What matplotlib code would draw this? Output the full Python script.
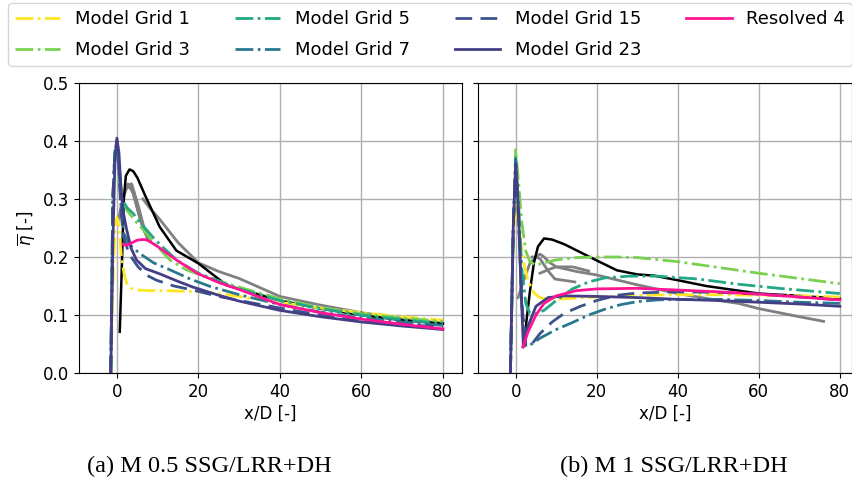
import matplotlib
matplotlib.use("Agg")
import matplotlib.pyplot as plt
from matplotlib.lines import Line2D

# ---------------- data: panel (a) M 0.5 ----------------
a_g1_x = [-1.5, -1.0, -0.5, 0.0, 0.5, 1.1, 1.8, 2.4, 3.5, 5, 8, 12, 16, 20, 25, 30, 40, 50, 60, 70, 80]
a_g1_y = [0.0, 0.15, 0.25, 0.268, 0.255, 0.2, 0.17, 0.155, 0.146, 0.143, 0.142, 0.142, 0.141, 0.14, 0.137, 0.132, 0.122, 0.112, 0.104, 0.097, 0.091]
a_g3_x = [-1.5, -1.0, -0.5, 0.0, 0.5, 1.2, 2.5, 4.5, 6.5, 9, 13, 17, 22, 30, 40, 50, 60, 70, 80]
a_g3_y = [0.0, 0.30, 0.38, 0.40, 0.36, 0.30, 0.28, 0.262, 0.247, 0.225, 0.195, 0.178, 0.165, 0.148, 0.128, 0.113, 0.102, 0.095, 0.089]
a_g5_x = [-1.5, -1.0, -0.5, 0.0, 0.5, 1.2, 2.5, 4, 6, 9, 12, 15, 20, 30, 40, 50, 60, 70, 80]
a_g5_y = [0.0, 0.30, 0.38, 0.40, 0.36, 0.30, 0.285, 0.275, 0.257, 0.233, 0.212, 0.193, 0.172, 0.145, 0.125, 0.111, 0.100, 0.092, 0.085]
a_g7_x = [-1.5, -1.0, -0.5, 0.0, 0.5, 1.0, 1.6, 3, 5.6, 9, 13, 18, 23, 30, 40, 50, 60, 70, 80]
a_g7_y = [0.0, 0.30, 0.38, 0.40, 0.35, 0.29, 0.242, 0.222, 0.206, 0.19, 0.178, 0.162, 0.149, 0.135, 0.118, 0.105, 0.095, 0.088, 0.082]
a_g15_x = [-1.5, -1.0, -0.5, 0.0, 0.5, 1.0, 1.6, 3, 5.2, 7.5, 9.7, 14, 18.7, 25, 30, 40, 50, 60, 70, 80]
a_g15_y = [0.0, 0.30, 0.38, 0.40, 0.35, 0.28, 0.235, 0.205, 0.183, 0.168, 0.16, 0.15, 0.143, 0.132, 0.125, 0.112, 0.100, 0.090, 0.084, 0.079]
a_g23_x = [-1.5, -1.0, -0.5, 0.0, 0.5, 1.0, 1.5, 2.4, 3.5, 4.8, 7, 10.5, 15, 18.7, 25, 30, 40, 50, 60, 70, 80]
a_g23_y = [0.0, 0.22, 0.36, 0.405, 0.38, 0.32, 0.28, 0.247, 0.215, 0.195, 0.18, 0.171, 0.158, 0.148, 0.134, 0.124, 0.108, 0.097, 0.088, 0.081, 0.075]
a_res_x = [1.5, 2.5, 3.5, 5, 6, 7, 8, 10, 12, 15, 20, 25, 30, 40, 50, 60, 70, 80]
a_res_y = [0.222, 0.22, 0.224, 0.229, 0.23, 0.23, 0.227, 0.218, 0.208, 0.193, 0.171, 0.156, 0.144, 0.118, 0.104, 0.093, 0.084, 0.076]
a_exp_x = [0.7, 1.2, 1.7, 2.2, 3.1, 4, 5, 7, 10.5, 14.6, 20, 27, 30, 40, 50, 60, 70, 80]
a_exp_y = [0.071, 0.18, 0.3, 0.34, 0.351, 0.348, 0.337, 0.305, 0.252, 0.211, 0.189, 0.151, 0.145, 0.125, 0.111, 0.100, 0.091, 0.085]
a_gr1_x = [0.2, 1.5, 2.7, 4.0, 5.5, 7.6]
a_gr1_y = [0.26, 0.30, 0.326, 0.31, 0.27, 0.23]
a_gr2_x = [2.5, 3.5, 5.0, 6.5, 8.0]
a_gr2_y = [0.32, 0.325, 0.29, 0.25, 0.23]
a_gr3_x = [6.4, 8, 10.5, 15, 20, 25, 30, 40, 50, 60, 70, 80]
a_gr3_y = [0.30, 0.285, 0.265, 0.225, 0.19, 0.175, 0.163, 0.132, 0.117, 0.104, 0.094, 0.086]

# ---------------- data: panel (b) M 1 ----------------
b_g1_x = [-1.3, -0.7, 0.0, 1.0, 2.0, 3.0, 4.5, 6, 8, 12, 20, 30, 40, 50, 60, 70, 80]
b_g1_y = [0.0, 0.2, 0.298, 0.24, 0.19, 0.16, 0.138, 0.13, 0.127, 0.128, 0.131, 0.134, 0.135, 0.135, 0.134, 0.133, 0.131]
b_g3_x = [-1.3, -0.6, 0.0, 0.7, 1.5, 2.5, 3.5, 5, 7, 10, 15, 20, 25, 30, 40, 50, 60, 70, 80]
b_g3_y = [0.0, 0.25, 0.385, 0.33, 0.26, 0.21, 0.192, 0.186, 0.19, 0.195, 0.199, 0.2, 0.2, 0.199, 0.192, 0.182, 0.172, 0.163, 0.154]
b_g5_x = [-1.3, -0.6, 0.0, 0.8, 1.5, 2.5, 3.5, 5, 7, 10, 14, 18, 22, 28, 35, 45, 55, 65, 80]
b_g5_y = [0.0, 0.25, 0.37, 0.28, 0.18, 0.12, 0.103, 0.102, 0.108, 0.125, 0.145, 0.157, 0.164, 0.167, 0.167, 0.162, 0.153, 0.146, 0.137]
b_g7_x = [-1.3, -0.6, 0.0, 0.8, 1.5, 2.5, 4, 6, 10, 14, 18, 22, 26, 30, 35, 40, 50, 60, 70, 80]
b_g7_y = [0.0, 0.25, 0.37, 0.25, 0.12, 0.05, 0.05, 0.06, 0.075, 0.087, 0.1, 0.11, 0.118, 0.123, 0.126, 0.127, 0.127, 0.125, 0.122, 0.12]
b_g15_x = [-1.3, -0.6, 0.0, 0.8, 1.5, 2.5, 4, 6, 9, 12, 16, 20, 25, 30, 40, 50, 60, 70, 80]
b_g15_y = [0.0, 0.25, 0.36, 0.25, 0.12, 0.045, 0.05, 0.068, 0.088, 0.103, 0.115, 0.125, 0.134, 0.138, 0.14, 0.139, 0.136, 0.131, 0.126]
b_g23_x = [-1.3, -0.6, 0.0, 0.7, 1.3, 1.9, 3, 5, 8, 12, 20, 30, 40, 50, 60, 70, 80]
b_g23_y = [0.0, 0.25, 0.361, 0.28, 0.15, 0.045, 0.08, 0.115, 0.13, 0.133, 0.132, 0.13, 0.127, 0.125, 0.122, 0.119, 0.115]
b_res_x = [1.8, 3, 5, 7, 10, 15, 20, 30, 40, 50, 60, 70, 80]
b_res_y = [0.045, 0.07, 0.1, 0.12, 0.133, 0.142, 0.145, 0.146, 0.143, 0.14, 0.136, 0.131, 0.126]
b_exp_x = [1.8, 2.5, 3.5, 4.5, 5.5, 7, 9, 12, 16, 20, 25, 30, 34, 40, 47, 55, 60, 70, 80]
b_exp_y = [0.045, 0.08, 0.14, 0.19, 0.218, 0.232, 0.23, 0.222, 0.208, 0.194, 0.177, 0.17, 0.168, 0.16, 0.15, 0.142, 0.137, 0.133, 0.128]
b_gr1_x = [0.6, 2, 3.5, 5, 6, 7, 8.5, 10, 15, 20, 30, 40, 50, 55, 60, 65, 70, 76]
b_gr1_y = [0.13, 0.16, 0.189, 0.2, 0.205, 0.2, 0.19, 0.183, 0.175, 0.169, 0.152, 0.137, 0.125, 0.12, 0.111, 0.104, 0.097, 0.089]
b_gr2_x = [4, 5, 6, 8, 9.7, 14.6]
b_gr2_y = [0.2, 0.2, 0.197, 0.176, 0.162, 0.157]
b_gr3_x = [6, 8, 10, 14, 18]
b_gr3_y = [0.172, 0.178, 0.183, 0.183, 0.176]

labels = ["Model Grid 1", "Model Grid 3", "Model Grid 5", "Model Grid 7",
          "Model Grid 15", "Model Grid 23", "Resolved 4"]
colors = ["#fde725", "#7ad151", "#22a884", "#2a788e", "#3b528b", "#433e85", "#ff1493"]
styles = ["-.", "-.", "-.", "-.", (0, (6, 3)), "-", "-"]
y_ticks = [0.0, 0.1, 0.2, 0.3, 0.4, 0.5]
x_ticks = [0, 20, 40, 60, 80]
captions = ["(a) M 0.5 SSG/LRR+DH", "(b) M 1 SSG/LRR+DH"]

panels = [
    dict(models=[(a_g1_x, a_g1_y), (a_g3_x, a_g3_y), (a_g5_x, a_g5_y), (a_g7_x, a_g7_y),
                 (a_g15_x, a_g15_y), (a_g23_x, a_g23_y), (a_res_x, a_res_y)],
         exp=(a_exp_x, a_exp_y),
         grays=[(a_gr1_x, a_gr1_y, 2.0), (a_gr2_x, a_gr2_y, 3.0), (a_gr3_x, a_gr3_y, 2.0)]),
    dict(models=[(b_g1_x, b_g1_y), (b_g3_x, b_g3_y), (b_g5_x, b_g5_y), (b_g7_x, b_g7_y),
                 (b_g15_x, b_g15_y), (b_g23_x, b_g23_y), (b_res_x, b_res_y)],
         exp=(b_exp_x, b_exp_y),
         grays=[(b_gr1_x, b_gr1_y, 2.0), (b_gr2_x, b_gr2_y, 2.0), (b_gr3_x, b_gr3_y, 2.0)]),
]

W, H = 853, 491
fig = plt.figure(figsize=(W / 100, H / 100), dpi=100)
plt.rcParams["font.family"] = "DejaVu Sans"

ax_px = [(79, 462, -9.3, 84.7), (478, 852, -9.3, 83.0)]
caption_x = [209, 674]
top_px, bot_px = 83, 373

for i, (p, (l, r, x0, x1)) in enumerate(zip(panels, ax_px)):
    ax = fig.add_axes([l / W, 1 - bot_px / H, (r - l) / W, (bot_px - top_px) / H])
    for gx, gy, lw in p["grays"]:
        ax.plot(gx, gy, color="#808080", lw=lw, zorder=2)
    ax.plot(p["exp"][0], p["exp"][1], color="black", lw=1.8, zorder=2)
    for k, (mx, my) in enumerate(p["models"]):
        ax.plot(mx, my, color=colors[k], ls=styles[k], lw=2.0, zorder=3 + k * 0.01)
    ax.set_xlim(x0, x1)
    ax.set_ylim(0, 0.5)
    ax.set_xticks(x_ticks)
    ax.set_yticks(y_ticks)
    ax.grid(True, color="#b0b0b0", lw=1.0)
    ax.set_axisbelow(True)
    ax.tick_params(labelsize=12)
    ax.set_xlabel("x/D [-]", fontsize=12, labelpad=3)
    if i == 0:
        ax.set_ylabel(r"$\overline{\eta}$ [-]", fontsize=12)
    else:
        ax.set_yticklabels([])
    fig.text(caption_x[i] / W, 1 - 466 / H, captions[i],
             family="Liberation Serif", fontsize=17.5, ha="center", va="center")

handles = [Line2D([], [], color=colors[k], ls=styles[k], lw=2.0) for k in range(len(labels))]
fig.legend(handles, labels, loc="upper left", ncol=4, mode="expand",
           bbox_to_anchor=(8 / W, 1 - 3 / H, (852 - 8) / W, 0), fontsize=13,
           handlelength=2.5, borderaxespad=0.0, labelspacing=0.7, columnspacing=1.0)

fig.savefig("out.png", dpi=100)
